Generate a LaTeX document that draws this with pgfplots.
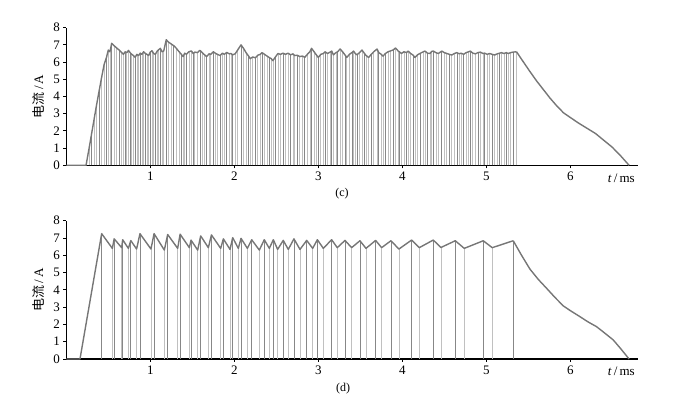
\documentclass[border=0pt]{standalone}
\usepackage{pgfplots}
\pgfplotsset{compat=1.18}
\usepackage{pgfplotstable}
\usepackage{fontspec}
\setmainfont{Liberation Serif}
\newfontfamily\cjk{Noto Sans CJK SC}
\definecolor{env}{RGB}{118,118,118}
\definecolor{combA}{RGB}{192,192,192}
\definecolor{combB}{RGB}{135,135,135}

\pgfplotstableread{
t v
0 0
0.235 0
0.27 0.95
0.30 1.8
0.33 2.65
0.36 3.5
0.39 4.3
0.42 5.1
0.45 5.85
0.48 6.3
0.50 6.7
0.52 6.6
0.54 7.09
0.57 6.95
0.60 6.82
0.63 6.70
0.66 6.55
0.68 6.45
0.70 6.6
0.72 6.55
0.74 6.68
0.76 6.55
0.78 6.45
0.80 6.38
0.82 6.28
0.84 6.45
0.86 6.38
0.88 6.52
0.90 6.45
0.92 6.6
0.94 6.5
0.96 6.45
0.98 6.38
1.00 6.58
1.02 6.66
1.04 6.5
1.06 6.45
1.08 6.62
1.10 6.72
1.12 6.8
1.14 6.6
1.16 6.65
1.19 7.3
1.22 7.15
1.25 7.05
1.28 6.95
1.31 6.8
1.34 6.62
1.37 6.45
1.39 6.32
1.41 6.52
1.43 6.45
1.46 6.6
1.49 6.65
1.51 6.5
1.53 6.58
1.56 6.55
1.59 6.68
1.62 6.55
1.64 6.45
1.67 6.32
1.70 6.48
1.72 6.45
1.75 6.6
1.78 6.5
1.80 6.45
1.83 6.38
1.86 6.52
1.88 6.45
1.91 6.56
1.94 6.48
1.96 6.5
1.98 6.42
2.01 6.48
2.04 6.7
2.08 7.0
2.11 6.8
2.14 6.55
2.17 6.35
2.19 6.2
2.22 6.3
2.25 6.25
2.28 6.4
2.31 6.45
2.33 6.55
2.36 6.45
2.39 6.35
2.42 6.25
2.44 6.2
2.46 6.08
2.49 6.3
2.52 6.5
2.55 6.45
2.58 6.52
2.61 6.45
2.64 6.52
2.67 6.42
2.70 6.48
2.72 6.38
2.75 6.4
2.78 6.32
2.81 6.35
2.84 6.28
2.87 6.45
2.90 6.6
2.92 6.8
2.95 6.6
2.98 6.4
3.00 6.27
3.03 6.45
3.06 6.5
3.08 6.6
3.11 6.5
3.14 6.58
3.16 6.64
3.18 6.42
3.21 6.55
3.23 6.6
3.26 6.76
3.29 6.6
3.32 6.4
3.34 6.27
3.37 6.45
3.40 6.55
3.42 6.64
3.44 6.5
3.46 6.42
3.49 6.55
3.52 6.7
3.55 6.5
3.57 6.38
3.60 6.27
3.63 6.45
3.66 6.6
3.70 6.76
3.72 6.55
3.75 6.45
3.77 6.35
3.80 6.5
3.83 6.6
3.86 6.65
3.89 6.7
3.92 6.82
3.95 6.65
3.97 6.58
3.99 6.5
4.02 6.6
4.05 6.55
4.07 6.64
4.10 6.5
4.13 6.4
4.15 6.27
4.18 6.42
4.21 6.5
4.25 6.6
4.27 6.64
4.30 6.52
4.33 6.5
4.35 6.62
4.37 6.64
4.40 6.55
4.43 6.5
4.47 6.64
4.50 6.55
4.53 6.5
4.56 6.45
4.59 6.41
4.62 6.5
4.65 6.55
4.68 6.48
4.70 6.52
4.73 6.45
4.76 6.55
4.79 6.6
4.81 6.64
4.84 6.52
4.87 6.48
4.90 6.55
4.93 6.58
4.96 6.5
4.98 6.52
5.01 6.45
5.04 6.5
5.07 6.45
5.10 6.41
5.13 6.48
5.16 6.52
5.18 6.55
5.21 6.5
5.24 6.55
5.26 6.5
5.29 6.55
5.32 6.58
5.36 6.6
}\ctab

\pgfplotstableread{
t v
5.36 6.6
5.45 5.95
5.52 5.45
5.60 4.9
5.68 4.4
5.76 3.9
5.84 3.45
5.92 3.05
6.00 2.78
6.10 2.45
6.20 2.15
6.30 1.85
6.40 1.45
6.50 1.05
6.60 0.55
6.70 0
}\cdecay

\pgfplotstableread{
t v
0 0
0.163 0
0.421 7.25
0.548 6.40
0.570 6.95
0.659 6.44
0.671 6.90
0.739 6.40
0.768 6.85
0.837 6.36
0.877 7.25
1.008 6.36
1.045 7.25
1.167 6.30
1.207 7.20
1.326 6.40
1.355 7.22
1.465 6.44
1.485 6.88
1.564 6.30
1.600 7.12
1.691 6.44
1.728 7.18
1.838 6.40
1.870 6.95
1.949 6.34
1.981 7.02
2.048 6.40
2.080 6.98
2.156 6.40
2.207 6.90
2.298 6.30
2.357 6.90
2.417 6.40
2.465 6.90
2.516 6.34
2.583 6.86
2.643 6.34
2.710 6.95
2.782 6.34
2.862 6.86
2.933 6.40
2.989 6.90
3.060 6.40
3.159 6.90
3.226 6.44
3.318 6.86
3.397 6.44
3.496 6.84
3.568 6.40
3.683 6.86
3.754 6.44
3.865 6.84
3.960 6.36
4.111 6.88
4.202 6.44
4.369 6.88
4.460 6.45
4.631 6.84
4.738 6.40
4.964 6.84
5.071 6.44
5.321 6.84
}\dtab

\pgfplotstableread{
t v
5.321 6.84
5.42 6.0
5.52 5.2
5.62 4.6
5.72 4.08
5.82 3.55
5.92 3.06
6.00 2.8
6.115 2.45
6.21 2.15
6.313 1.87
6.41 1.5
6.512 1.1
6.60 0.6
6.70 0
}\ddecay

\pgfplotsset{
  myax/.style={
    scale only axis, width=572pt,
    xmin=0, xmax=6.81, ymin=0, ymax=8,
    axis x line=bottom, axis y line=left,
    axis line style={-, black, line width=1.1pt},
    xtick={1,2,3,4,5,6}, ytick={0,1,2,3,4,5,6,7,8},
    tick align=outside, major tick length=3pt,
    tick style={black, line width=0.8pt},
    tick label style={font=\fontsize{13}{15}\selectfont},
    label style={font=\fontsize{13}{15}\selectfont},
    /pgf/number format/assume math mode=true,
    xlabel={\textit{t}\,/\,ms},
    ylabel={{\cjk 电流}\,/\,A},
    ylabel style={at={(rel axis cs:-0.049,0.5)}, anchor=center},
    clip=false,
  },
  comb1/.style={ycomb, combA, line width=0.7pt, no marks},
  comb2/.style={ycomb, combB, line width=0.7pt, no marks},
  envl/.style={env, line width=1.4pt, no marks, line join=round},
}

\begin{document}
\begin{tikzpicture}
\path[use as bounding box] (0pt,0pt) rectangle (675pt,403pt);
\begin{axis}[myax, at={(66.3pt,237.7pt)}, anchor=south west, height=137.6pt,
  xlabel style={at={(rel axis cs:1,-0.092)}, anchor=east}]
\addplot[comb1] table {\ctab};
\addplot[comb2, each nth point=3] table {\ctab};
\addplot[envl] table {\ctab};
\addplot[envl] table {\cdecay};
\node[font=\fontsize{12}{14}\selectfont] at (rel axis cs:0.482,-0.205) {(c)};
\end{axis}
\begin{axis}[myax, at={(66.3pt,44pt)}, anchor=south west, height=138.3pt,
  xlabel style={at={(rel axis cs:1,-0.092)}, anchor=east}]
\addplot[comb1] table {\dtab};
\addplot[comb2, each nth point=2] table {\dtab};
\addplot[envl] table {\dtab};
\addplot[envl] table {\ddecay};
\node[font=\fontsize{12}{14}\selectfont] at (rel axis cs:0.484,-0.217) {(d)};
\end{axis}
\end{tikzpicture}
\end{document}
